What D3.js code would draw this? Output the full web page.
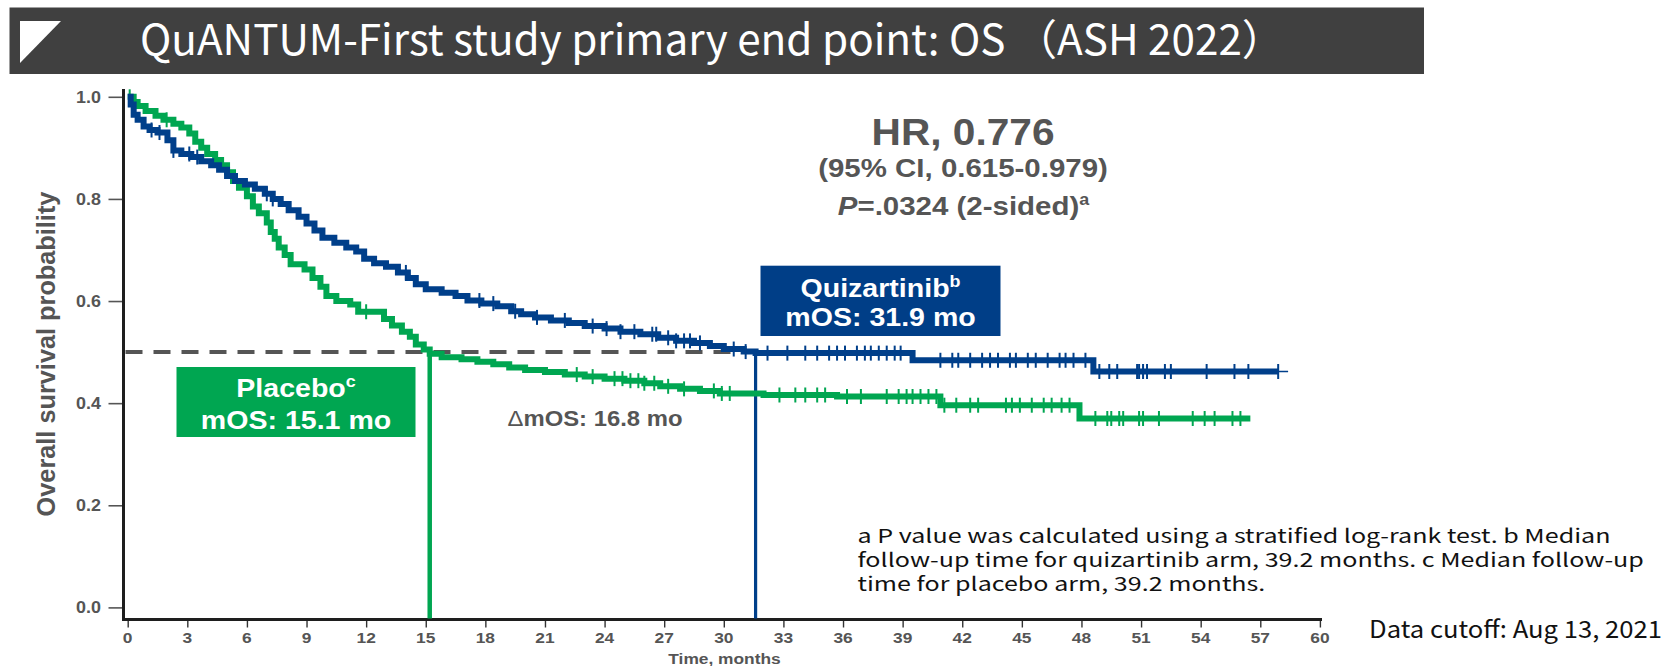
<!DOCTYPE html>
<html>
<head>
<meta charset="utf-8">
<script src="https://cdn.jsdelivr.net/npm/d3@7"></script>
<style>
  html, body { margin: 0; padding: 0; background: #ffffff; }
  svg { display: block; }
</style>
</head>
<body>
<svg id="chart" width="1668" height="666"></svg>
<script>
// ---------------- DATA ----------------
const titleText = "QuANTUM-First study primary end point: OS （ASH 2022）";
const xTickValues = [0, 3, 6, 9, 12, 15, 18, 21, 24, 27, 30, 33, 36, 39, 42, 45, 48, 51, 54, 57, 60];
const yTickValues = [0.0, 0.2, 0.4, 0.6, 0.8, 1.0];
const yTickLabels = ["0.0", "0.2", "0.4", "0.6", "0.8", "1.0"];

// Quizartinib arm: step times (months) and survival after each step
const quizTimes = [0, 0.15, 0.3, 0.5, 0.8, 1.1, 1.5, 2.0, 2.3, 2.7, 3.2, 3.7, 4.2, 4.6, 5.0, 5.4, 5.9, 6.4, 6.9, 7.3, 7.7, 8.1, 8.6, 9.0, 9.4, 9.8, 10.4, 11.0, 11.5, 11.9, 12.4, 13.0, 13.6, 14.1, 14.5, 15.0, 15.8, 16.5, 17.1, 17.8, 18.6, 19.3, 19.8, 20.5, 21.3, 22.2, 23.0, 24.0, 24.8, 25.8, 26.7, 27.6, 28.5, 29.3, 30.0, 31.0, 31.6, 39.5, 48.6];
const quizSurv  = [1.0, 0.985, 0.965, 0.955, 0.942, 0.935, 0.93, 0.915, 0.895, 0.888, 0.882, 0.874, 0.866, 0.857, 0.845, 0.835, 0.828, 0.82, 0.81, 0.80, 0.79, 0.778, 0.765, 0.752, 0.738, 0.724, 0.714, 0.705, 0.697, 0.683, 0.674, 0.667, 0.656, 0.645, 0.633, 0.623, 0.616, 0.61, 0.601, 0.595, 0.59, 0.58, 0.574, 0.568, 0.562, 0.557, 0.551, 0.546, 0.54, 0.535, 0.528, 0.522, 0.518, 0.512, 0.506, 0.501, 0.498, 0.484, 0.462];
const quizEnd = 57.9;
const quizCensor = [1.2, 1.6, 2.3, 3.1, 3.5, 7.0, 7.3, 14.0, 17.7, 18.4, 19.5, 20.6, 22.0, 23.4, 24.1, 24.8, 25.5, 26.4, 26.6, 27.2, 27.6, 28.0, 28.3, 28.8, 30.5, 31.1, 32.2, 33.2, 34.1, 34.7, 35.3, 35.7, 36.1, 36.7, 37.1, 37.4, 37.8, 38.2, 38.6, 38.9, 40.9, 41.5, 41.8, 42.4, 43.0, 43.4, 43.8, 44.4, 44.7, 45.3, 45.7, 46.3, 46.9, 47.2, 47.6, 48.2, 48.9, 49.4, 49.8, 50.8, 50.9, 51.1, 51.3, 52.2, 52.5, 54.3, 55.7, 56.4, 57.9];

// Placebo arm
const placTimes = [0, 0.3, 0.5, 0.9, 1.4, 1.8, 2.3, 2.7, 3.1, 3.4, 3.7, 4.0, 4.4, 4.7, 5.0, 5.3, 5.6, 6.0, 6.3, 6.6, 7.0, 7.2, 7.4, 7.6, 7.9, 8.2, 8.9, 9.3, 9.7, 10.0, 10.5, 11.2, 11.6, 12.9, 13.3, 13.8, 14.2, 14.5, 14.9, 15.2, 15.8, 16.8, 17.6, 18.4, 19.2, 20.0, 21.0, 22.0, 23.0, 24.0, 25.0, 26.0, 26.8, 27.8, 28.8, 29.8, 32.0, 35.7, 40.9, 47.9];
const placSurv  = [1.0, 0.99, 0.982, 0.972, 0.963, 0.955, 0.947, 0.94, 0.928, 0.912, 0.90, 0.888, 0.876, 0.866, 0.852, 0.835, 0.822, 0.805, 0.785, 0.772, 0.754, 0.735, 0.722, 0.705, 0.69, 0.672, 0.662, 0.645, 0.628, 0.61, 0.60, 0.593, 0.579, 0.565, 0.552, 0.54, 0.53, 0.515, 0.505, 0.497, 0.49, 0.486, 0.481, 0.476, 0.47, 0.465, 0.461, 0.456, 0.452, 0.448, 0.444, 0.439, 0.433, 0.428, 0.424, 0.419, 0.416, 0.413, 0.396, 0.37];
const placEnd = 56.5;
const placCensor = [0.1, 1.96, 12.0, 22.6, 23.4, 24.5, 24.9, 25.3, 25.7, 26.0, 26.5, 27.2, 28.0, 29.5, 29.9, 30.3, 32.8, 33.6, 34.1, 34.7, 35.1, 36.2, 36.9, 38.2, 38.8, 39.2, 39.5, 39.9, 40.3, 40.7, 41.1, 41.7, 42.4, 42.8, 44.2, 44.5, 44.9, 45.5, 46.1, 46.5, 47.0, 47.4, 48.7, 49.3, 49.5, 49.9, 50.1, 50.9, 51.1, 51.9, 53.6, 54.2, 54.7, 55.6, 56.0];

const quizMedian = 31.6;   // drawn position of median line
const placMedian = 15.2;
const medianLevel = 0.5;

const hrLines = ["HR, 0.776", "(95% CI, 0.615-0.979)"];
const pLine = ["P", "=.0324 (2-sided)", "a"];
const quizLabel = ["Quizartinib", "b", "mOS: 31.9 mo"];
const placLabel = ["Placebo", "c", "mOS: 15.1 mo"];
const deltaLabel = ["\u0394", "mOS: 16.8 mo"];
const footnotes = [
  "a P value was calculated using a stratified log-rank test. b Median",
  "follow-up time for quizartinib arm, 39.2 months. c Median follow-up",
  "time for placebo arm, 39.2 months."
];
const cutoffText = "Data cutoff: Aug 13, 2021";
const xAxisTitle = "Time, months";
const yAxisTitle = "Overall survival probability";

// ---------------- STYLE ----------------
const BLUE = "#003f8a";
const BLUE_BOX = "#003e87";
const GREEN = "#00a651";
const GRAY_TXT = "#555555";
const chartFont = "'Liberation Sans', Arial, Helvetica, sans-serif";
const slideFont = "'Noto Sans CJK JP', 'Noto Sans', sans-serif";
const SX = 1.12; // horizontal stretch of the original chart image

const svg = d3.select("#chart");

// ---------------- TITLE BAR ----------------
svg.append("rect").attr("x", 9.5).attr("y", 7.5).attr("width", 1414.5).attr("height", 66.5).attr("fill", "#404040");
svg.append("path").attr("d", "M20,21 L61,21 L20,63 Z").attr("fill", "#ffffff");
const title = svg.append("text")
  .attr("x", 140).attr("y", 54.5)
  .attr("font-family", slideFont).attr("font-size", 38)
  .attr("fill", "#ffffff").text(titleText);
{
  // visible width 1123 px; the full-width closing bracket carries ~half an em of empty advance
  let fs = 38;
  for (let k = 0; k < 3; k++) {
    title.attr("font-size", fs);
    const w = title.node().getComputedTextLength();
    fs = fs * (1123 + 0.5 * fs) / w;
  }
  title.attr("font-size", fs);
}

// ---------------- SCALES ----------------
const x = d3.scaleLinear().domain([0, 60]).range([127.7, 1319.9]);
const y = d3.scaleLinear().domain([0, 1]).range([607.4, 96.8]);
const axisBottomY = 619.5;
const axisLeftX = 123.5;

function stext(parent, px, py, sx) {
  return parent.append("g")
    .attr("transform", `translate(${px},${py}) scale(${sx},1)`)
    .append("text")
    .attr("font-family", chartFont);
}

const plot = svg.append("g");

// ---------------- AXES ----------------
const yAxis = d3.axisLeft(y).tickValues(yTickValues).tickSize(15).tickFormat(() => "");
const yAxisG = plot.append("g").attr("transform", `translate(${axisLeftX},0)`).call(yAxis);
yAxisG.select(".domain").remove();
yAxisG.selectAll(".tick line").attr("stroke", "#555").attr("stroke-width", 1.6);
yTickValues.forEach((v, i) => {
  stext(plot, 101, y(v) + 5.8, SX)
    .attr("text-anchor", "end").attr("font-size", 16).attr("font-weight", "bold")
    .attr("fill", GRAY_TXT).text(yTickLabels[i]);
});

const xAxis = d3.axisBottom(x).tickValues(xTickValues).tickSize(8).tickFormat(() => "");
const xAxisG = plot.append("g").attr("transform", `translate(0,${axisBottomY})`).call(xAxis);
xAxisG.select(".domain").remove();
xAxisG.selectAll(".tick line").attr("stroke", "#333").attr("stroke-width", 1.4);
xTickValues.forEach(v => {
  stext(plot, x(v), 642.5, SX)
    .attr("text-anchor", "middle").attr("font-size", 15.5).attr("font-weight", "bold")
    .attr("fill", GRAY_TXT).text(String(v));
});

plot.append("line").attr("x1", axisLeftX).attr("x2", axisLeftX).attr("y1", 89).attr("y2", axisBottomY + 1.5)
  .attr("stroke", "#1e1e1e").attr("stroke-width", 3);
plot.append("line").attr("x1", axisLeftX - 1.5).attr("x2", 1322).attr("y1", axisBottomY).attr("y2", axisBottomY)
  .attr("stroke", "#1e1e1e").attr("stroke-width", 3);

stext(plot, 724.5, 663.5, SX)
  .attr("text-anchor", "middle").attr("font-size", 15.5).attr("font-weight", "bold")
  .attr("fill", GRAY_TXT).text(xAxisTitle);

plot.append("text")
  .attr("transform", "translate(55,354) rotate(-90)")
  .attr("text-anchor", "middle").attr("font-family", chartFont)
  .attr("font-size", 25.3).attr("font-weight", "bold").attr("fill", GRAY_TXT)
  .text(yAxisTitle);

// ---------------- MEDIAN GUIDES ----------------
plot.append("line")
  .attr("x1", axisLeftX + 2).attr("x2", x(quizMedian)).attr("y1", y(medianLevel)).attr("y2", y(medianLevel))
  .attr("stroke", "#555").attr("stroke-width", 4).attr("stroke-dasharray", "17 11");
plot.append("line")
  .attr("x1", x(placMedian)).attr("x2", x(placMedian)).attr("y1", y(medianLevel)).attr("y2", axisBottomY - 1)
  .attr("stroke", GREEN).attr("stroke-width", 4.5);
plot.append("line")
  .attr("x1", x(quizMedian)).attr("x2", x(quizMedian)).attr("y1", y(medianLevel)).attr("y2", axisBottomY - 1)
  .attr("stroke", BLUE).attr("stroke-width", 3.2);

// ---------------- KM CURVES ----------------
function stepPoints(times, surv, end) {
  const pts = times.map((t, i) => [t, surv[i]]);
  pts.push([end, surv[surv.length - 1]]);
  return pts;
}
function survAt(times, surv, t) {
  let s = surv[0];
  for (let i = 0; i < times.length; i++) { if (times[i] <= t) s = surv[i]; }
  return s;
}
const km = d3.line().x(d => x(d[0])).y(d => y(d[1])).curve(d3.curveStepAfter);

function drawArm(times, surv, end, censor, color) {
  plot.append("path").datum(stepPoints(times, surv, end))
    .attr("d", km).attr("fill", "none").attr("stroke", color)
    .attr("stroke-width", 6).attr("stroke-linejoin", "miter");
  plot.append("g").selectAll("line").data(censor).join("line")
    .attr("x1", d => x(d)).attr("x2", d => x(d))
    .attr("y1", d => y(survAt(times, surv, d)) - 7.5)
    .attr("y2", d => y(survAt(times, surv, d)) + 7.5)
    .attr("stroke", color).attr("stroke-width", 2);
}
drawArm(placTimes, placSurv, placEnd, placCensor, GREEN);
drawArm(quizTimes, quizSurv, quizEnd, quizCensor, BLUE);
// thin tail of the quizartinib curve
plot.append("line")
  .attr("x1", x(quizEnd)).attr("x2", x(58.4))
  .attr("y1", y(quizSurv[quizSurv.length - 1])).attr("y2", y(quizSurv[quizSurv.length - 1]))
  .attr("stroke", BLUE).attr("stroke-width", 1.5);

// ---------------- ANNOTATIONS ----------------
// HR block
stext(plot, 963, 145, SX).attr("text-anchor", "middle").attr("font-size", 36.3)
  .attr("font-weight", "bold").attr("fill", GRAY_TXT).text(hrLines[0]);
stext(plot, 963, 176.5, SX).attr("text-anchor", "middle").attr("font-size", 26.3)
  .attr("font-weight", "bold").attr("fill", GRAY_TXT).text(hrLines[1]);
{
  const t = stext(plot, 963.5, 214.5, SX).attr("text-anchor", "middle").attr("font-size", 26.3)
    .attr("font-weight", "bold").attr("fill", GRAY_TXT);
  t.append("tspan").attr("font-style", "italic").text(pLine[0]);
  t.append("tspan").text(pLine[1]);
  t.append("tspan").attr("font-size", 16).attr("dy", -10).text(pLine[2]);
}

// Quizartinib box
plot.append("rect").attr("x", 760.5).attr("y", 265.7).attr("width", 240).attr("height", 70.3).attr("fill", BLUE_BOX);
{
  const t = stext(plot, 880.5, 296.7, SX).attr("text-anchor", "middle").attr("font-size", 25.5)
    .attr("font-weight", "bold").attr("fill", "#ffffff");
  t.append("tspan").text(quizLabel[0]);
  t.append("tspan").attr("font-size", 16).attr("dy", -10).text(quizLabel[1]);
  stext(plot, 880.5, 326, SX).attr("text-anchor", "middle").attr("font-size", 25.5)
    .attr("font-weight", "bold").attr("fill", "#ffffff").text(quizLabel[2]);
}

// Placebo box
plot.append("rect").attr("x", 176.5).attr("y", 367).attr("width", 239).attr("height", 70).attr("fill", GREEN);
{
  const t = stext(plot, 296, 397.3, SX).attr("text-anchor", "middle").attr("font-size", 25.5)
    .attr("font-weight", "bold").attr("fill", "#ffffff");
  t.append("tspan").text(placLabel[0]);
  t.append("tspan").attr("font-size", 16).attr("dy", -10).text(placLabel[1]);
  stext(plot, 296, 428.5, SX).attr("text-anchor", "middle").attr("font-size", 25.5)
    .attr("font-weight", "bold").attr("fill", "#ffffff").text(placLabel[2]);
}

// Delta mOS
{
  const t = stext(plot, 595, 425.5, SX).attr("text-anchor", "middle").attr("font-size", 21.3)
    .attr("fill", GRAY_TXT);
  t.append("tspan").attr("font-weight", "normal").text(deltaLabel[0]);
  t.append("tspan").attr("font-weight", "bold").text(deltaLabel[1]);
}

// ---------------- FOOTNOTES ----------------
const footBase = [543, 567, 591];
const footNodes = footnotes.map((line, i) =>
  svg.append("text").attr("x", 857.5).attr("y", footBase[i])
    .attr("font-family", slideFont).attr("font-size", 19).attr("fill", "#111")
    .text(line));
{
  // common horizontal condensing so that the first line spans 753 px
  const k = 753 / footNodes[0].node().getComputedTextLength();
  footNodes.forEach(n => {
    const w = n.node().getComputedTextLength();
    n.attr("textLength", w * k).attr("lengthAdjust", "spacingAndGlyphs");
  });
}
svg.append("text").attr("x", 1369).attr("y", 638)
  .attr("font-family", slideFont).attr("font-size", 24).attr("fill", "#111")
  .attr("textLength", 293).attr("lengthAdjust", "spacingAndGlyphs")
  .text(cutoffText);
</script>
</body>
</html>
